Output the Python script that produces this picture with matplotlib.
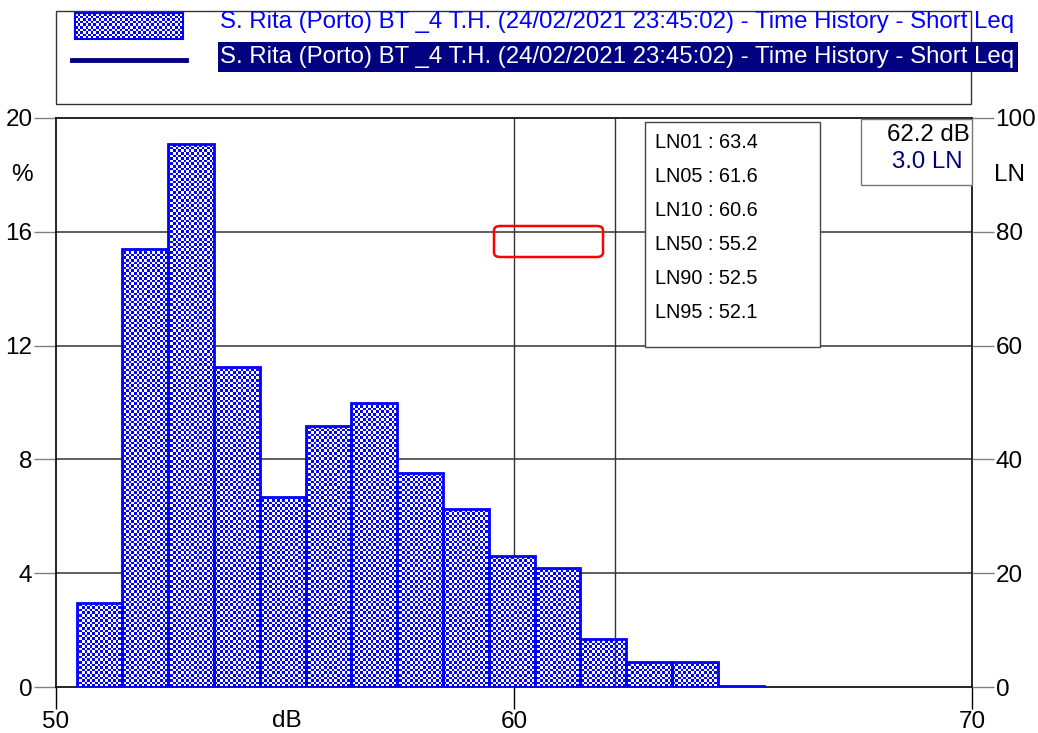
import matplotlib
matplotlib.use("Agg")
import matplotlib.pyplot as plt
import numpy as np
from matplotlib.colors import ListedColormap
from matplotlib.patches import Rectangle, FancyBboxPatch, PathPatch
from matplotlib.path import Path

plt.rcParams['font.family'] = ['Liberation Sans', 'DejaVu Sans']

# histogram data (dB class lower edge, % of time)
bin_lower = [50.45, 51.45, 52.45, 53.45, 54.45, 55.45, 56.45, 57.45,
             58.45, 59.45, 60.45, 61.45, 62.45, 63.45, 64.45]
percent = [2.95, 15.4, 19.1, 11.25, 6.68, 9.17, 9.98, 7.52,
           6.26, 4.6, 4.18, 1.69, 0.88, 0.88, 0.03]

ln_labels = ['LN01', 'LN05', 'LN10', 'LN50', 'LN90', 'LN95']
ln_values = [63.4, 61.6, 60.6, 55.2, 52.5, 52.1]

cursor_db = 62.2
cursor_ln = 3.0
series_name = "S. Rita (Porto) BT _4 T.H. (24/02/2021 23:45:02) - Time History - Short Leq"

W, H = 1038, 733
fig = plt.figure(figsize=(W / 100, H / 100), dpi=100)


def fx(px):
    return px / W


def fy(py):
    return 1 - py / H


ax = fig.add_axes([fx(56), fy(687), fx(972) - fx(56), fy(118) - fy(687)])
ax.set_xlim(50, 70)
ax.set_ylim(0, 20)

checker_cmap = ListedColormap(['white', '#0000ff'])
cell = 2.6


def checker(nx, ny):
    return (np.add.outer(np.arange(ny), np.arange(nx)) % 2).astype(float)


# grid
for yv in [4, 8, 12, 16]:
    ax.axhline(yv, color='#333333', lw=1.1, zorder=1)
ax.axvline(60, color='#333333', lw=1.0, zorder=1)

# bars
bars = ax.bar(bin_lower, percent, width=1.0, align='edge', facecolor='none',
              edgecolor='#0000ff', lw=2.0, zorder=3)
img = ax.imshow(checker(int(916 / cell), int(569 / cell)), cmap=checker_cmap,
                extent=(50, 70, 0, 20), aspect='auto', interpolation='none',
                zorder=2.5)
paths = [b.get_path().transformed(b.get_patch_transform()) for b in bars]
clip = PathPatch(Path.make_compound_path(*paths), transform=ax.transData,
                 facecolor='none', edgecolor='none')
ax.add_patch(clip)
img.set_clip_path(clip)
ax.set_xlim(50, 70)
ax.set_ylim(0, 20)

# cursor line
ax.axvline(cursor_db, color='#333333', lw=1.0, zorder=4)

for sp in ax.spines.values():
    sp.set_color('black')
    sp.set_linewidth(1.2)

ax.set_xticks([50, 60, 70])
ax.set_yticks([0, 4, 8, 12, 16, 20])
ax.tick_params(axis='x', direction='out', length=16, width=1.0, color='black',
               labelsize=17.5, pad=1)
ax.tick_params(axis='y', direction='out', length=16, width=1.0, color='#808080',
               labelsize=17.5, pad=1)

ax2 = ax.twinx()
ax2.set_ylim(0, 100)
ax2.set_yticks([0, 20, 40, 60, 80, 100])
ax2.tick_params(axis='y', direction='out', length=16, width=1.0, color='#808080',
                labelsize=17.5, pad=1)
for sp in ax2.spines.values():
    sp.set_visible(False)

fig.text(fx(22), fy(175), '%', fontsize=17.5, ha='center', va='center')
fig.text(fx(1010), fy(175), 'LN', fontsize=17.5, ha='center', va='center')
fig.text(fx(287), fy(721), 'dB', fontsize=17.5, ha='center', va='center')

# LN statistics box
fig.patches.append(Rectangle((fx(645), fy(347)), fx(820) - fx(645), fy(122) - fy(347),
                             transform=fig.transFigure, facecolor='white',
                             edgecolor='#444444', lw=1.0, zorder=5))
for i, (lab, val) in enumerate(zip(ln_labels, ln_values)):
    fig.text(fx(655), fy(143 + i * 33.8), f'{lab} : {val:.1f}', fontsize=14.3,
             ha='left', va='center', zorder=6)

# cursor readout box
fig.patches.append(Rectangle((fx(861), fy(185)), fx(972) - fx(861), fy(119) - fy(185),
                             transform=fig.transFigure, facecolor='white',
                             edgecolor='#777777', lw=1.0, zorder=5))
fig.text(fx(970), fy(135), f'{cursor_db:.1f} dB', fontsize=17.3, ha='right',
         va='center', zorder=6)
fig.text(fx(963), fy(162), f'{cursor_ln:.1f} LN', fontsize=17.3, ha='right',
         va='center', color='#000080', zorder=6)

# red marker rectangle
fig.patches.append(FancyBboxPatch((fx(494), fy(257)), fx(603) - fx(494), fy(226) - fy(257),
                                  boxstyle='round,pad=0,rounding_size=0.006',
                                  transform=fig.transFigure, facecolor='none',
                                  edgecolor='#ff0000', lw=1.8, zorder=6))

# legend block
fig.patches.append(Rectangle((fx(56), fy(104)), fx(971) - fx(56), fy(11) - fy(104),
                             transform=fig.transFigure, facecolor='none',
                             edgecolor='#333333', lw=1.0, zorder=0))
lax = fig.add_axes([fx(75), fy(39), fx(183) - fx(75), fy(13) - fy(39)])
lax.imshow(checker(int(108 / cell), int(26 / cell)), cmap=checker_cmap, aspect='auto',
           interpolation='none')
lax.set_xticks([])
lax.set_yticks([])
for sp in lax.spines.values():
    sp.set_color('#0000ff')
    sp.set_linewidth(1.5)
fig.lines.append(plt.Line2D([fx(72), fx(186)], [fy(60), fy(60)], transform=fig.transFigure,
                            color='#000080', lw=3.5))
fig.text(fx(220), fy(22), series_name, fontsize=17.3, color='#0000ff', ha='left', va='center')
fig.patches.append(Rectangle((fx(218), fy(72)), fx(1018) - fx(218), fy(42) - fy(72),
                             transform=fig.transFigure, facecolor='#000080',
                             edgecolor='none', zorder=1))
fig.text(fx(220), fy(57), series_name, fontsize=17.3, color='white', ha='left',
         va='center', zorder=2)

fig.savefig('out.png', dpi=100)
